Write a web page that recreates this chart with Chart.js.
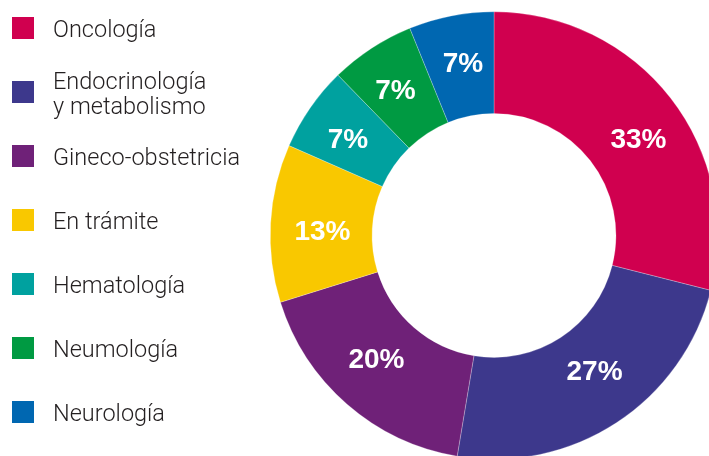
<!DOCTYPE html>
<html>
<head>
<meta charset="utf-8">
<script src="https://cdn.jsdelivr.net/npm/chart.js@4/dist/chart.umd.min.js"></script>
<style>
  html, body { margin: 0; padding: 0; background: #fff; overflow: hidden; width: 709px; height: 456px; }
  #wrap { position: absolute; left: 0; top: 0; width: 730px; height: 470px; }
</style>
</head>
<body>
<div id="wrap"><canvas id="chart"></canvas></div>
<script>
// === ДАННЫЕ ===
const categories = ['Oncología', ['Endocrinología', 'y metabolismo'], 'Gineco-obstetricia', 'En trámite', 'Hematología', 'Neumología', 'Neurología'];
const shares = [33, 27, 20, 13, 7, 7, 7];
const colors = ['#D0004F', '#3D388C', '#6F2178', '#F9C800', '#00A19F', '#009A42', '#0067B1'];

// небольшие ручные сдвиги подписей (как в макете)
const labelNudge = [[8, 9], [6, -10], [-4, -8], [1, 4], [-4, 1], [-4, -2], [2, -4]];

// === ЛЕГЕНДА СЛЕВА ===
const sideLegend = {
    id: 'sideLegend',
    afterDraw(chart) {
        const ctx = chart.ctx;
        ctx.save();
        ctx.font = '300 23.5px Roboto, "Liberation Sans", sans-serif';
        ctx.textBaseline = 'alphabetic';
        categories.forEach((label, i) => {
            const cy = 28 + i * 64;
            ctx.fillStyle = colors[i];
            ctx.fillRect(12, cy - 11, 22, 22);
            ctx.fillStyle = '#231f20';
            if (Array.isArray(label)) {
                label.forEach((l, k) => ctx.fillText(l, 53, cy - 3 + k * 25));
            } else {
                ctx.fillText(label, 53, cy + 9);
            }
        });
        ctx.restore();
    }
};

// === ПОДПИСИ ПРОЦЕНТОВ ===
const sliceLabels = {
    id: 'sliceLabels',
    afterDatasetsDraw(chart) {
        const ctx = chart.ctx;
        const meta = chart.getDatasetMeta(0);
        ctx.save();
        ctx.font = 'bold 28px "Liberation Sans", Arial, sans-serif';
        ctx.fillStyle = '#fff';
        ctx.textAlign = 'center';
        ctx.textBaseline = 'alphabetic';
        meta.data.forEach((arc, i) => {
            const p = arc.getCenterPoint();
            const [nx, ny] = labelNudge[i];
            ctx.fillText(shares[i] + '%', p.x + nx, p.y + 10 + ny);
        });
        ctx.restore();
    }
};

new Chart(document.getElementById('chart'), {
    type: 'doughnut',
    data: {
        labels: categories,
        datasets: [{
            data: shares,
            backgroundColor: colors,
            borderColor: 'rgba(255,255,255,0.5)',
            borderWidth: 0.5
        }]
    },
    options: {
        responsive: true,
        maintainAspectRatio: false,
        animation: false,
        cutout: '54.5%',
        layout: { padding: { left: 270, right: 12, top: 11.5, bottom: 10.5 } },
        plugins: {
            legend: { display: false },
            tooltip: { enabled: false }
        }
    },
    plugins: [sideLegend, sliceLabels]
});
</script>
</body>
</html>
